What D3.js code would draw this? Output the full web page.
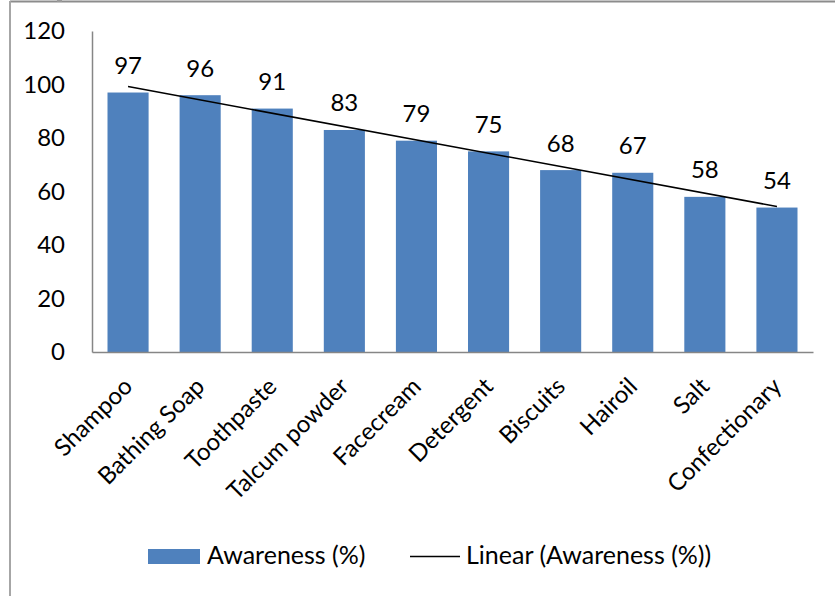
<!DOCTYPE html>
<html><head><meta charset="utf-8">
<script src="https://cdn.jsdelivr.net/npm/d3@7"></script>
<style>body{margin:0;background:#fff}svg{display:block}text{font-family:Lato,"Open Sans",sans-serif;fill:#000}</style>
</head><body><svg id="c" width="835" height="596"></svg>
<script>
const categories = ["Shampoo","Bathing Soap","Toothpaste","Talcum powder","Facecream","Detergent","Biscuits","Hairoil","Salt","Confectionary"];
const awareness = [97,96,91,83,79,75,68,67,58,54];
const yTicks = [0,20,40,60,80,100,120];
const seriesName = "Awareness (%)";
const trendName = "Linear (Awareness (%))";

const svg = d3.select("#c");
// frame
svg.append("line").attr("x1",10).attr("x2",835).attr("y1",1.5).attr("y2",1.5).attr("stroke","#8c8c8c").attr("stroke-width",2);
svg.append("line").attr("x1",10).attr("x2",10).attr("y1",1).attr("y2",596).attr("stroke","#a6a6a6").attr("stroke-width",2);
svg.append("rect").attr("x",57).attr("y",0).attr("width",5).attr("height",2).attr("fill","#999");

const m = {l:92, r:813, t:31, b:352};
const x = d3.scaleBand().domain(categories).range([m.l,m.r]).paddingInner(0.43).paddingOuter(0.215);
const y = d3.scaleLinear().domain([0,120]).range([m.b,m.t]);

// bars
svg.append("g").selectAll("rect").data(awareness).join("rect")
  .attr("x",(d,i)=>x(categories[i])).attr("width",x.bandwidth())
  .attr("y",d=>y(d)).attr("height",d=>y(0)-y(d)).attr("fill","#4f81bd");

// axes
const ya = svg.append("g").attr("transform",`translate(${m.l},0)`)
  .call(d3.axisLeft(y).tickValues(yTicks).tickSize(0).tickPadding(27));
ya.select(".domain").attr("stroke","#868686").attr("stroke-width",1.5);
ya.selectAll("text").attr("font-size",24).style("font-family","Lato");

const xa = svg.append("g").attr("transform",`translate(0,${m.b})`)
  .call(d3.axisBottom(x).tickSize(0).tickFormat(""));
xa.select(".domain").attr("stroke","#868686").attr("stroke-width",1.5);

// category labels
svg.append("g").selectAll("text").data(categories).join("text")
  .attr("transform",d=>`translate(${x(d)+x.bandwidth()/2},${382}) rotate(-45)`)
  .attr("text-anchor","end").attr("dy","0.35em").attr("font-size",24).text(d=>d);

// value labels
svg.append("g").selectAll("text").data(awareness).join("text")
  .attr("x",(d,i)=>x(categories[i])+x.bandwidth()/2).attr("y",d=>y(d)-18.5)
  .attr("text-anchor","middle").attr("font-size",24).text(d=>d);

// linear trend line (least squares)
const n = awareness.length;
const xs = d3.range(1,n+1);
const mx = d3.mean(xs), my = d3.mean(awareness);
const slope = d3.sum(xs,(xi,i)=>(xi-mx)*(awareness[i]-my))/d3.sum(xs,xi=>(xi-mx)**2);
const icpt = my - slope*mx;
const cx = i => x(categories[i])+x.bandwidth()/2;
svg.append("line").attr("x1",cx(0)).attr("y1",y(icpt+slope*1))
  .attr("x2",cx(n-1)).attr("y2",y(icpt+slope*n)).attr("stroke","#000").attr("stroke-width",1.5);

// legend
const lg = svg.append("g");
lg.append("rect").attr("x",148).attr("y",549).attr("width",52).attr("height",15).attr("fill","#4f81bd");
lg.append("text").attr("x",207).attr("y",564).attr("font-size",25).text(seriesName);
lg.append("line").attr("x1",410).attr("x2",460).attr("y1",556.5).attr("y2",556.5).attr("stroke","#000").attr("stroke-width",1.5);
lg.append("text").attr("x",466).attr("y",564).attr("font-size",25).text(trendName);
</script></body></html>
